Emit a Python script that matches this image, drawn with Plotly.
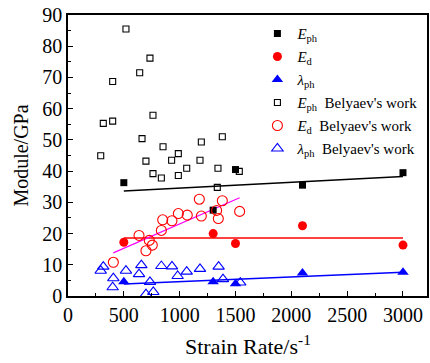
import numpy as np
import plotly.graph_objects as go

# This work
rate = [500, 1300, 1500, 2100, 3000]
E_ph = [36.3, 27.5, 40.5, 35.5, 39.5]
E_d = [17.2, 20.0, 16.8, 22.5, 16.3]
lam_ph = [4.6, 4.6, 3.9, 7.4, 7.6]

# Belyaev's work
bel_Eph_x = [519, 734, 642, 400, 761, 316, 400, 663, 851, 1194, 1382, 293, 988,
             698, 928, 1182, 1063, 761, 836, 988, 1343, 1534, 1337]
bel_Eph_y = [85.5, 76.2, 71.5, 68.7, 57.9, 55.3, 56.0, 50.4, 47.8, 49.3, 51.0, 44.9, 45.6,
             43.2, 43.5, 43.5, 40.9, 39.2, 37.8, 38.6, 40.9, 39.9, 34.8]
bel_Ed_x = [406, 636, 728, 698, 755, 836, 848, 931, 988, 1068, 1176, 1194, 1331, 1382, 1346, 1537]
bel_Ed_y = [10.8, 19.4, 17.8, 14.5, 16.3, 21.0, 24.4, 24.1, 26.4, 25.9, 31.0, 25.6, 27.4, 30.5, 24.8, 27.1]
bel_lam_x = [293, 316, 406, 400, 519, 657, 636, 734, 698, 764, 836, 931, 982, 1063, 1182, 1349, 1388, 1543]
bel_lam_y = [8.1, 9.4, 5.7, 2.8, 8.1, 9.9, 7.0, 4.5, 0.6, 1.3, 9.6, 9.5, 6.4, 7.8, 8.7, 9.4, 5.4, 4.3]

FONT = "Liberation Serif"
fig = go.Figure()


def fit_line(x, y, color, width=1.5):
    k, b = np.polyfit(x, y, 1)
    xs = np.array([min(x), max(x)], dtype=float)
    fig.add_trace(go.Scatter(x=xs, y=k * xs + b, mode="lines",
                             line=dict(color=color, width=width), showlegend=False,
                             hoverinfo="skip"))


fit_line(rate, E_ph, "black")
fit_line(rate, E_d, "red")
fit_line(rate, lam_ph, "blue")
fit_line(bel_Ed_x, bel_Ed_y, "magenta", 1.2)

fig.add_trace(go.Scatter(x=rate, y=E_ph, mode="markers", name="<i>E</i><sub>ph</sub>",
                         legendgroup="g1",
                         marker=dict(symbol="square", size=7, color="black")))
fig.add_trace(go.Scatter(x=rate, y=E_d, mode="markers", name="<i>E</i><sub>d</sub>",
                         legendgroup="g2",
                         marker=dict(symbol="circle", size=9, color="red")))
fig.add_trace(go.Scatter(x=rate, y=lam_ph, mode="markers", name="<i>λ</i><sub>ph</sub>",
                         legendgroup="g3",
                         marker=dict(symbol="triangle-up", size=10, color="blue")))
fig.add_trace(go.Scatter(x=bel_Eph_x, y=bel_Eph_y, mode="markers",
                         name="<i>E</i><sub>ph</sub>  Belyaev's work", legendgroup="g4",
                         marker=dict(symbol="square-open", size=6, color="black",
                                     line=dict(width=1.1))))
fig.add_trace(go.Scatter(x=bel_Ed_x, y=bel_Ed_y, mode="markers",
                         name="<i>E</i><sub>d</sub>  Belyaev's work", legendgroup="g5",
                         marker=dict(symbol="circle-open", size=10, color="red",
                                     line=dict(width=1.1))))
fig.add_trace(go.Scatter(x=bel_lam_x, y=bel_lam_y, mode="markers",
                         name="<i>λ</i><sub>ph</sub>  Belyaev's work", legendgroup="g6",
                         marker=dict(symbol="triangle-up-open", size=10, color="blue",
                                     line=dict(width=1.1))))

axis_common = dict(showgrid=False, zeroline=False, showline=True, linecolor="black",
                   linewidth=1.5, mirror=True, ticks="inside", ticklen=5, tickwidth=1,
                   tickcolor="black", tickfont=dict(family=FONT, size=20, color="black"))

fig.update_xaxes(range=[0, 3215], tick0=0, dtick=500,
                 minor=dict(ticks="inside", ticklen=3, dtick=250, tickcolor="black"),
                 **axis_common)
fig.update_yaxes(range=[0, 90], tick0=0, dtick=10,
                 minor=dict(ticks="inside", ticklen=3, dtick=5, tickcolor="black"),
                 title=dict(text="Module/GPa",
                            font=dict(family=FONT, size=20, color="black"), standoff=8),
                 **axis_common)

fig.add_annotation(text="Strain Rate/s<sup>-1</sup>", xref="paper", yref="paper",
                   x=0.5, y=-0.175, xanchor="center", yanchor="middle", showarrow=False,
                   font=dict(family=FONT, size=22, color="black"))

fig.update_layout(
    width=430, height=363,
    margin=dict(l=68, r=3, t=15, b=67, autoexpand=False),
    plot_bgcolor="white", paper_bgcolor="white",
    font=dict(family=FONT, color="black"),
    legend=dict(x=0.99, y=0.992, xanchor="right", yanchor="top",
                bgcolor="rgba(0,0,0,0)", borderwidth=0,
                font=dict(family=FONT, size=15, color="black"),
                itemsizing="trace", tracegroupgap=0.5),
    showlegend=True,
)

fig.write_html("out.html")
